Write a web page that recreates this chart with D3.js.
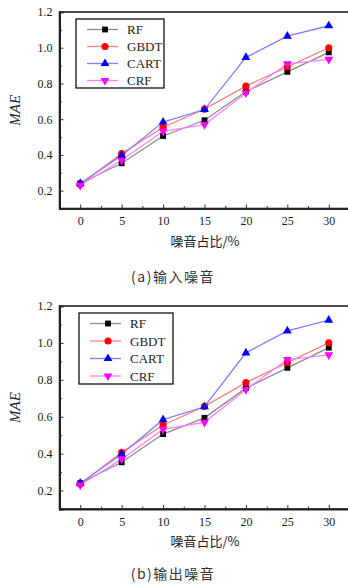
<!DOCTYPE html>
<html><head><meta charset="utf-8">
<script src="https://cdn.jsdelivr.net/npm/d3@7"></script>
<style>body{margin:0;background:#fff}svg{display:block}</style>
</head><body>
<svg id="c" width="348" height="585"></svg>
<script>
const xValues = [0, 5, 10, 15, 20, 25, 30];
const seriesNames = ["RF", "GBDT", "CART", "CRF"];
const rfA   = [0.24, 0.353, 0.506, 0.594, 0.755, 0.865, 0.974];
const gbdtA = [0.235, 0.407, 0.555, 0.656, 0.785, 0.893, 1.0];
const cartA = [0.24, 0.397, 0.584, 0.654, 0.946, 1.065, 1.123];
const crfA  = [0.23, 0.37, 0.532, 0.57, 0.747, 0.91, 0.935];
const rfB   = [0.24, 0.353, 0.506, 0.594, 0.755, 0.865, 0.974];
const gbdtB = [0.235, 0.407, 0.555, 0.656, 0.785, 0.893, 1.0];
const cartB = [0.24, 0.397, 0.584, 0.654, 0.946, 1.065, 1.123];
const crfB  = [0.23, 0.37, 0.532, 0.57, 0.747, 0.91, 0.935];
const yTicks = [0.2, 0.4, 0.6, 0.8, 1.0, 1.2];
const xTitle = "噪音占比/%";
const yTitle = "MAE";
const captions = ["(a)输入噪音", "(b)输出噪音"];

const styles = {
  RF:   {line:"#8c8c8c", fill:"#000000", sym:d3.symbolSquare},
  GBDT: {line:"#ff8080", fill:"#ff0000", sym:d3.symbolCircle},
  CART: {line:"#8080ff", fill:"#0000ff", sym:d3.symbolTriangle},
  CRF:  {line:"#ff80ff", fill:"#ff00ff", sym:"down"}
};
const serif = "'Liberation Serif','DejaVu Serif',serif";
const cjk = "'Noto Sans CJK SC',sans-serif";
const svg = d3.select("#c");

function symPath(name, size){
  if (name === "CRF") return d3.symbol().type(d3.symbolTriangle).size(size)();
  return d3.symbol().type(styles[name].sym).size(size)();
}

function panel(cfg, data){
  const g = svg.append("g");
  const x = d3.scaleLinear().domain([-2.5, 32.5]).range([59.5, 349.5]);
  const y = d3.scaleLinear().domain([0.1, 1.2]).range([cfg.bottom, cfg.top]);

  g.append("rect").attr("x", x(-2.5)).attr("y", y(1.2))
    .attr("width", x(32.5)-x(-2.5)).attr("height", y(0.1)-y(1.2))
    .attr("fill","none").attr("stroke","#222").attr("stroke-width",1.6);

  const yAxis = d3.axisLeft(y).tickValues(yTicks).tickFormat(d3.format(".1f")).tickSize(-4).tickPadding(7);
  const ya = g.append("g").attr("transform",`translate(${x(-2.5)},0)`).call(yAxis);
  ya.attr("font-family",null);
  ya.select(".domain").attr("stroke","#222").attr("stroke-width",2);
  ya.selectAll(".tick line").attr("stroke","#333");
  ya.selectAll("text").style("font-family",serif).style("font-size","12px").attr("fill","#1a1a1a");
  const yMinor = d3.axisLeft(y).tickValues(d3.range(0.3,1.2,0.2)).tickFormat("").tickSize(-2.5);
  const ym = g.append("g").attr("transform",`translate(${x(-2.5)},0)`).call(yMinor);
  ym.select(".domain").remove(); ym.selectAll(".tick line").attr("stroke","#333");

  const xAxis = d3.axisBottom(x).tickValues(xValues).tickSize(-4).tickPadding(8);
  const xa = g.append("g").attr("transform",`translate(0,${y(0.1)})`).call(xAxis);
  xa.attr("font-family",null);
  xa.select(".domain").attr("stroke","#222").attr("stroke-width",2);
  xa.selectAll(".tick line").attr("stroke","#333");
  xa.selectAll("text").style("font-family",serif).style("font-size","12px").attr("fill","#1a1a1a");
  const xMinor = d3.axisBottom(x).tickValues(d3.range(2.5,30,5)).tickFormat("").tickSize(-2.5);
  const xm = g.append("g").attr("transform",`translate(0,${y(0.1)})`).call(xMinor);
  xm.select(".domain").remove(); xm.selectAll(".tick line").attr("stroke","#333");

  g.append("text").attr("x",205).attr("y",cfg.xTitleY).attr("text-anchor","middle")
    .style("font-family",cjk).style("font-size","13px").attr("fill","#222").text(xTitle);
  g.append("text").attr("transform",`translate(20,${(y(1.2)+y(0.1))/2}) rotate(-90)`)
    .attr("text-anchor","middle").style("font-family",serif).attr("font-style","italic")
    .style("font-size","15px").attr("fill","#222").text(yTitle);
  g.append("text").attr("x",173).attr("y",cfg.capY).attr("text-anchor","middle")
    .style("font-family",cjk).style("font-size","14px").style("letter-spacing","1.5px")
    .attr("fill","#333").text(cfg.caption);

  const line = d3.line().x((d,i)=>x(xValues[i])).y(d=>y(d));
  seriesNames.forEach(n=>{
    g.append("path").attr("d",line(data[n])).attr("fill","none")
      .attr("stroke",styles[n].line).attr("stroke-width",1.3);
  });
  seriesNames.forEach(n=>{
    data[n].forEach((v,i)=>{
      g.append("path").attr("d",symPath(n,n==="GBDT"?40:34))
        .attr("transform",`translate(${x(xValues[i])},${y(v)})${n==="CRF"?" rotate(180)":""}`)
        .attr("fill",styles[n].fill);
    });
  });

  const L = cfg.legend;
  g.append("rect").attr("x",L.x).attr("y",L.y).attr("width",L.w).attr("height",L.h)
    .attr("fill","#fff").attr("stroke","#111").attr("stroke-width",1.3);
  seriesNames.forEach((n,i)=>{
    const yy = L.y + 10.5 + i*L.step;
    g.append("line").attr("x1",L.x+11).attr("x2",L.x+42).attr("y1",yy).attr("y2",yy)
      .attr("stroke",styles[n].line).attr("stroke-width",1.3);
    g.append("path").attr("d",symPath(n,n==="GBDT"?40:34))
      .attr("transform",`translate(${L.x+29},${yy})${n==="CRF"?" rotate(180)":""}`)
      .attr("fill",styles[n].fill);
    g.append("text").attr("x",L.x+51).attr("y",yy+4.5).style("font-family",serif)
      .style("font-size","13px").attr("fill","#222").text(n);
  });
}

panel({top:12, bottom:208.5, xTitleY:246, capY:282, caption:captions[0],
       legend:{x:76, y:19, w:88, h:69, step:17}},
      {RF:rfA, GBDT:gbdtA, CART:cartA, CRF:crfA});
panel({top:306, bottom:509, xTitleY:546, capY:579, caption:captions[1],
       legend:{x:79, y:313, w:94, h:71, step:17.5}},
      {RF:rfB, GBDT:gbdtB, CART:cartB, CRF:crfB});
</script>
</body></html>
